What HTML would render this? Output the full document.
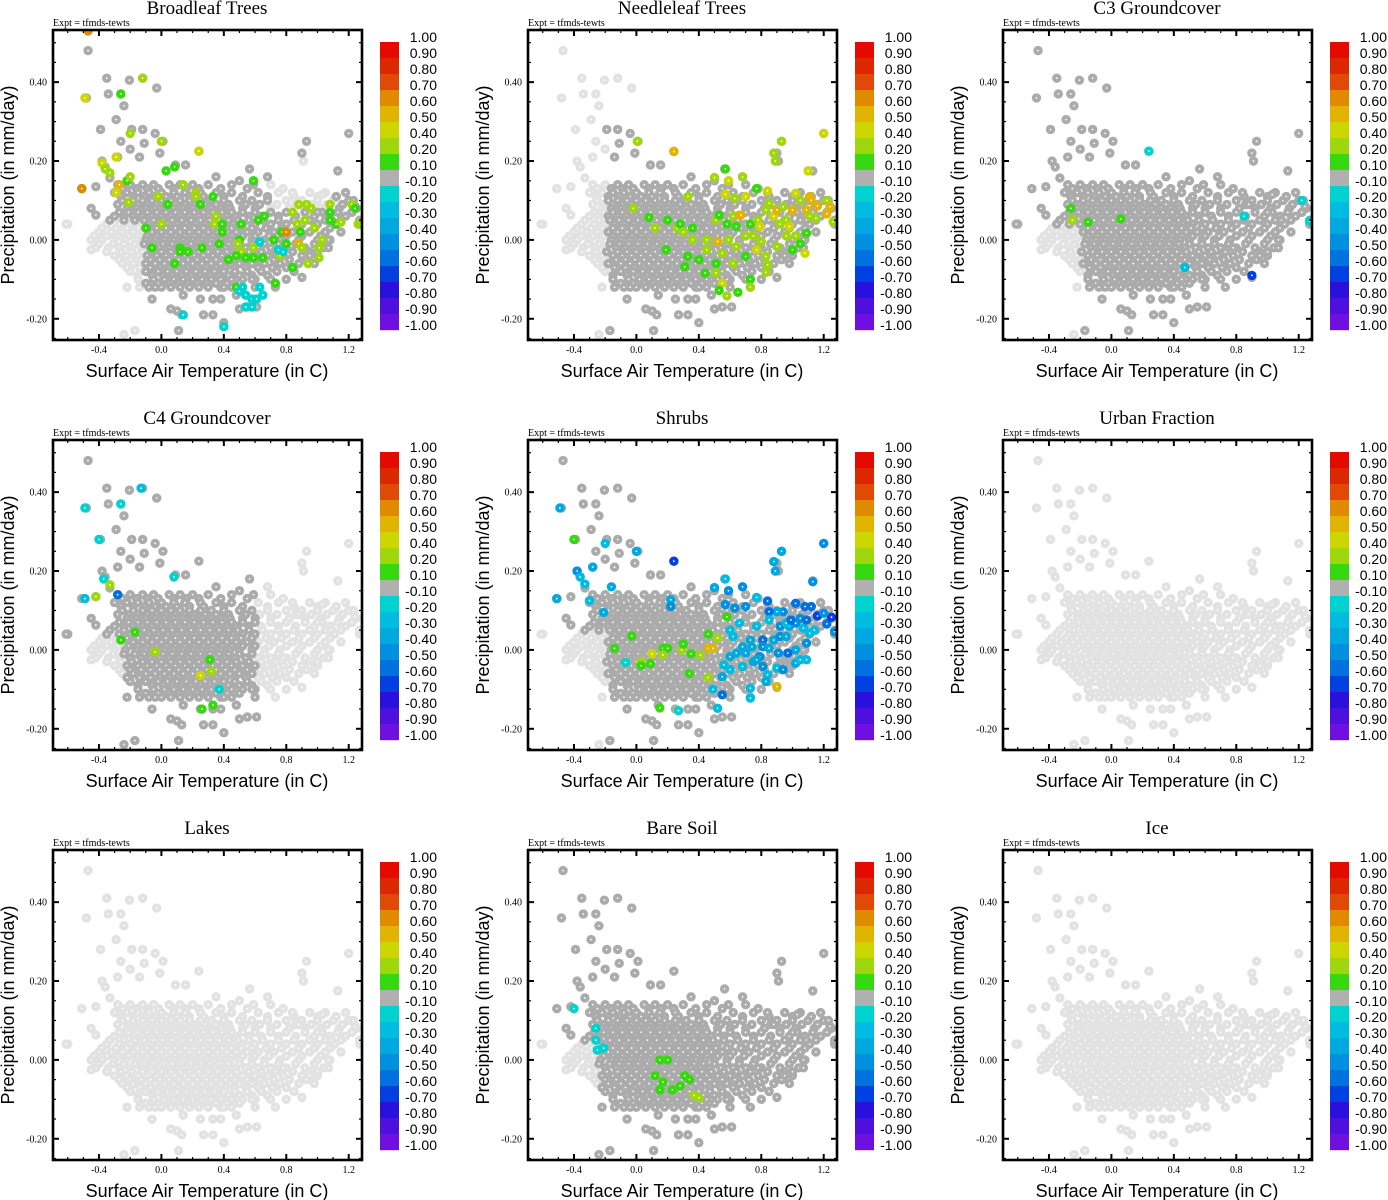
<!DOCTYPE html>
<html><head><meta charset="utf-8">
<style>
html,body{margin:0;padding:0;background:#fff;}
svg{display:block;}
</style></head>
<body>
<svg id="chart" width="1388" height="1200" xmlns="http://www.w3.org/2000/svg"></svg>
<script>
// ---------- shared point cloud (data units: x = temp C, y = precip mm/day) ----------
const outX = [-0.47,-0.48,-0.35,-0.34,-0.205,-0.12,-0.03,-0.26,-0.24,-0.29,-0.39,-0.19,-0.12,-0.26,-0.2,-0.11,-0.04,0.01,-0.01,0.24,-0.14,-0.28,-0.38,-0.36,-0.33,-0.51,-0.42,-0.42,-0.61,-0.45,-0.45,0.93,1.2,0.9,0.91,1.13,0.565,0.155,0.09,0.35,0.5,0.68,0.59,0.78,0.84,1.03,1.12,1.23,1.24,1.22,1.27,1.16,0.96,0.88,1.0,1.09,1.11,1.05,1.07,1.0,1.07,0.9,0.85,0.95,0.78,0.73,0.61,0.55,0.5,0.33,0.27,0.4,0.11,-0.17,-0.24,0.13,0.1,0.06,-0.06,-0.14,-0.22,-0.04,-0.22,-0.18,0.14,0.25,0.33,0.38,0.4,0.48,0.6,0.58];
const outY = [0.48,0.36,0.41,0.37,0.405,0.41,0.385,0.37,0.34,0.305,0.28,0.28,0.28,0.25,0.23,0.245,0.27,0.25,0.22,0.225,0.21,0.21,0.2,0.185,0.157,0.13,0.135,0.063,0.04,-0.025,0.0,0.25,0.27,0.22,0.2,0.175,0.18,0.19,0.19,0.16,0.15,0.16,0.14,0.13,0.12,0.115,0.11,0.1,0.085,0.07,0.05,0.09,0.09,0.09,0.07,0.05,0.04,0.02,0.0,-0.03,-0.02,-0.095,-0.08,-0.04,-0.02,-0.12,-0.17,-0.17,-0.175,-0.19,-0.19,-0.21,-0.23,-0.23,-0.24,-0.19,-0.18,-0.175,-0.15,-0.12,-0.12,-0.12,-0.07,-0.06,-0.14,-0.15,-0.15,-0.15,-0.12,-0.14,-0.12,-0.1];
// dense core, stored by row: one precip value per row plus its temperatures
const coreRowY = [0.14,0.13,0.12,0.11,0.10,0.09,0.08,0.07,0.06,0.05,0.04,0.03,0.02,0.01,0.00,-0.01,-0.02,-0.03,-0.04,-0.05,-0.06,-0.07,-0.08,-0.09,-0.10,-0.11,-0.12];
const coreRowX = [
 [-0.28,-0.2,-0.12,-0.05,0.05,0.12,0.2,0.3,0.45,0.7],
 [-0.25,-0.16,-0.09,-0.02,0.08,0.16,0.24,0.38,0.55],
 [-0.3,-0.22,-0.15,-0.08,0.0,0.08,0.15,0.25,0.35,0.45,0.62,0.75,0.95,1.05,1.18],
 [-0.26,-0.18,-0.11,-0.04,0.03,0.1,0.18,0.27,0.4,0.52,0.68,0.85,1.0,1.12],
 [-0.25,-0.18,-0.12,-0.06,0.0,0.06,0.12,0.18,0.25,0.32,0.4,0.5,0.58,0.68,0.8,0.9,1.0,1.1,1.2],
 [-0.28,-0.21,-0.15,-0.09,-0.03,0.03,0.09,0.15,0.21,0.28,0.35,0.43,0.54,0.63,0.74,0.86,0.96,1.06,1.16],
 [-0.45,-0.22,-0.16,-0.1,-0.04,0.02,0.08,0.14,0.2,0.26,0.32,0.38,0.44,0.52,0.6,0.7,0.82,0.92,1.02,1.14,1.25],
 [-0.27,-0.21,-0.15,-0.09,-0.03,0.03,0.09,0.15,0.21,0.27,0.33,0.39,0.45,0.52,0.6,0.7,0.8,0.92,1.03,1.13,1.22],
 [-0.3,-0.24,-0.18,-0.12,-0.06,0.0,0.06,0.12,0.18,0.24,0.3,0.36,0.42,0.48,0.56,0.64,0.75,0.86,0.98,1.08,1.18],
 [-0.33,-0.24,-0.17,-0.11,-0.05,0.01,0.07,0.13,0.19,0.25,0.31,0.37,0.43,0.49,0.56,0.65,0.75,0.85,0.95,1.05,1.15],
 [-0.6,-0.35,-0.27,-0.2,-0.14,-0.08,-0.02,0.04,0.1,0.16,0.22,0.28,0.34,0.4,0.46,0.52,0.6,0.7,0.8,0.9,1.0,1.1,1.27],
 [-0.38,-0.29,-0.22,-0.15,-0.09,-0.03,0.03,0.09,0.15,0.21,0.27,0.33,0.39,0.45,0.51,0.58,0.67,0.77,0.88,0.98,1.08],
 [-0.4,-0.32,-0.25,-0.18,-0.12,-0.06,0.0,0.06,0.12,0.18,0.24,0.3,0.36,0.42,0.48,0.55,0.62,0.72,0.84,0.95,1.05,1.15],
 [-0.43,-0.35,-0.28,-0.21,-0.15,-0.09,-0.03,0.03,0.09,0.15,0.21,0.27,0.33,0.39,0.45,0.52,0.6,0.69,0.8,0.9,1.02],
 [-0.45,-0.38,-0.3,-0.23,-0.16,-0.1,-0.04,0.02,0.08,0.14,0.2,0.26,0.32,0.38,0.44,0.5,0.58,0.66,0.76,0.88,1.0,1.08],
 [-0.4,-0.31,-0.24,-0.17,-0.11,-0.05,0.01,0.07,0.13,0.19,0.25,0.31,0.37,0.43,0.5,0.58,0.66,0.75,0.86,0.98],
 [-0.42,-0.34,-0.27,-0.2,-0.13,-0.07,-0.01,0.05,0.11,0.17,0.23,0.29,0.35,0.41,0.47,0.54,0.62,0.7,0.8,0.92,1.04],
 [-0.35,-0.26,-0.19,-0.12,-0.06,0.0,0.06,0.12,0.18,0.24,0.3,0.36,0.42,0.48,0.56,0.64,0.73,0.84,0.95],
 [-0.3,-0.22,-0.15,-0.09,-0.03,0.03,0.09,0.15,0.21,0.27,0.33,0.39,0.45,0.52,0.6,0.68,0.78,0.9,1.0],
 [-0.27,-0.2,-0.13,-0.07,-0.01,0.05,0.11,0.17,0.23,0.29,0.35,0.41,0.47,0.55,0.63,0.72,0.82,0.93],
 [-0.25,-0.18,-0.1,-0.04,0.02,0.08,0.14,0.2,0.26,0.32,0.38,0.44,0.5,0.58,0.66,0.76,0.88,0.98],
 [-0.22,-0.14,-0.07,-0.01,0.05,0.11,0.17,0.23,0.29,0.35,0.41,0.47,0.54,0.62,0.71,0.8],
 [-0.2,-0.1,-0.02,0.04,0.1,0.16,0.22,0.28,0.34,0.4,0.47,0.55,0.64,0.74,0.85],
 [-0.15,-0.06,0.01,0.07,0.13,0.19,0.25,0.31,0.37,0.43,0.5,0.58,0.68],
 [-0.15,-0.05,0.02,0.08,0.14,0.2,0.26,0.32,0.38,0.45,0.52,0.6,0.7,0.8],
 [-0.1,-0.02,0.05,0.11,0.17,0.23,0.29,0.35,0.42,0.5],
 [-0.08,0.0,0.06,0.12,0.18,0.24,0.3,0.38,0.45]
];

// ---------- panel titles ----------
const titles = ["Broadleaf Trees","Needleleaf Trees","C3 Groundcover","C4 Groundcover","Shrubs","Urban Fraction","Lakes","Bare Soil","Ice"];
// regions where correlation is not significant (light grey): [xmin,xmax,ymin,ymax]; null = all light
const lightRegions = [
 [[-0.7,-0.12,-0.26,0.04],[0.7,1.1,0.08,0.2]],
 [[-0.7,-0.2,-0.26,0.55],[-0.7,0.1,0.3,0.55]],
 [[-0.7,-0.2,-0.26,0.03]],
 [[-0.7,-0.25,-0.26,0.03],[0.62,1.3,-0.26,0.3]],
 [[-0.7,-0.2,-0.26,0.04]],
 null, null,
 [[-0.7,-0.25,-0.26,0.04]],
 null
];

// ---------- coloured (significant) points per panel ----------
const c1x=[-0.47,-0.49,-0.26,-0.12,-0.2,0.0,0.24,-0.29,-0.38,-0.36,-0.33,-0.51,-0.27,-0.29,-0.22,-0.2,-0.21,0.03,0.085,0.14,0.22,0.22,0.33,0.25,0.04,-0.02,0.0,-0.1,0.35,0.34,0.39,0.39,-0.06,0.12,0.12,0.17,0.26,0.37,0.43,0.085,0.5,0.49,0.51,0.51,0.48,0.54,0.59,0.65,0.59,0.59,0.62,0.66,0.72,0.76,0.73,0.48,0.77,0.8,0.8,0.84,0.84,0.88,0.93,0.96,0.87,0.89,0.88,0.9,0.92,0.98,0.94,1.01,1.01,1.03,1.08,1.08,1.08,1.12,1.15,1.22,1.24,1.26,1.28,0.14,0.4,0.63,0.63,0.5,0.54,0.58,0.61,0.65,0.54,0.58,0.75,0.78,0.52];
const c1y=[0.53,0.36,0.37,0.41,0.27,0.25,0.225,0.21,0.195,0.18,0.17,0.13,0.14,0.12,0.15,0.16,0.095,0.175,0.185,0.14,0.12,0.11,0.11,0.09,0.09,0.11,0.04,0.03,0.06,0.04,0.04,0.02,-0.02,-0.02,-0.03,-0.03,-0.02,-0.01,-0.05,-0.06,0.0,-0.01,0.04,-0.03,-0.04,-0.045,-0.045,-0.045,-0.02,0.15,0.05,0.06,0.0,-0.04,-0.11,-0.12,0.02,0.02,-0.01,-0.07,0.07,0.09,0.09,0.08,0.04,0.02,-0.01,-0.02,0.05,0.03,-0.06,-0.02,-0.045,0.0,0.09,0.07,0.05,0.04,0.045,0.09,0.08,0.04,0.04,-0.19,-0.22,-0.005,-0.12,-0.13,-0.14,-0.15,-0.15,-0.14,-0.17,-0.17,-0.025,-0.03,-0.12];
const c1v=[0.6,0.45,0.15,0.3,0.3,0.3,0.45,0.45,0.45,0.3,0.3,0.6,0.5,0.45,0.15,0.3,0.3,0.15,0.15,0.3,0.3,0.3,0.15,0.15,0.15,0.3,0.3,0.15,0.3,0.3,0.15,0.15,0.15,0.15,0.15,0.15,0.15,0.15,0.15,0.15,0.15,0.3,0.15,0.3,0.15,0.15,0.15,0.15,0.3,0.15,0.15,0.15,0.15,0.3,0.15,0.15,0.15,0.6,0.15,0.15,0.3,0.3,0.3,0.3,0.3,0.15,0.5,0.3,0.3,0.3,0.3,0.3,0.3,0.3,0.3,0.15,0.15,0.15,0.3,0.3,0.15,0.3,0.3,-0.15,-0.15,-0.15,-0.15,-0.15,-0.15,-0.15,-0.15,-0.15,-0.15,-0.15,-0.15,-0.15,-0.15];

const c2x=[0.006,0.24,0.93,1.2,0.88,0.89,1.1,0.57,0.5,0.59,0.68,0.77,0.84,0.57,0.63,0.7,0.33,-0.02,0.08,0.2,0.12,0.26,0.28,0.3,0.36,0.36,0.45,0.51,0.53,0.58,0.62,0.64,0.66,0.7,0.73,0.75,0.78,0.79,0.83,0.85,0.88,0.9,0.92,0.94,0.96,0.98,1.0,1.02,1.05,1.09,1.08,1.0,0.96,0.9,0.83,0.77,0.7,0.64,0.59,0.55,0.51,0.45,0.4,0.33,0.31,0.44,0.51,0.55,0.62,0.73,0.73,0.65,0.53,0.58,0.19,0.84,0.83,0.8,0.52,0.67,1.02,1.05,1.11,1.12,1.16,1.22,1.24,1.22,1.26,1.09,1.11,1.15];
const c2y=[0.25,0.224,0.25,0.27,0.22,0.2,0.175,0.18,0.158,0.15,0.16,0.13,0.124,0.116,0.105,0.11,0.11,0.08,0.057,0.05,0.03,0.03,0.04,0.02,0.03,0.0,0.0,0.05,0.063,0.04,0.06,0.034,0.063,0.01,0.04,0.01,0.05,0.034,0.076,0.093,0.06,0.076,0.04,0.084,0.05,0.034,0.076,0.01,-0.01,0.017,-0.034,-0.025,0.01,-0.017,-0.042,-0.025,-0.042,-0.017,0.0,-0.034,-0.06,-0.025,-0.05,-0.042,-0.068,-0.084,-0.084,-0.11,-0.06,-0.1,-0.12,-0.133,-0.128,-0.142,-0.025,-0.063,-0.082,-0.004,-0.004,0.063,0.118,0.1,0.11,0.1,0.086,0.1,0.084,0.066,0.046,0.076,0.06,0.055];
const c2v=[0.3,0.55,0.3,0.4,0.3,0.3,0.45,0.15,0.3,0.45,0.3,0.15,0.45,0.45,0.3,0.45,0.3,0.3,0.15,0.15,0.3,0.3,0.15,0.3,0.15,0.3,0.3,0.3,0.15,0.15,0.3,0.15,0.5,0.3,0.15,0.3,0.3,0.4,0.3,0.3,0.4,0.5,0.3,0.3,0.3,0.4,0.5,0.3,0.15,0.15,0.4,0.15,0.3,0.3,0.3,0.4,0.15,0.3,0.3,0.3,0.15,0.3,0.15,0.15,0.15,0.15,0.3,0.4,0.3,0.15,0.3,0.15,0.15,0.3,0.15,0.3,0.3,0.3,0.55,0.55,0.4,0.3,0.55,0.5,0.55,0.3,0.55,0.55,0.3,0.55,0.3,0.3];

const c3x=[0.24,-0.26,-0.25,-0.15,0.06,1.22,1.27,0.9,0.85,0.47];
const c3y=[0.225,0.08,0.05,0.045,0.053,0.1,0.048,-0.09,0.06,-0.07];
const c3v=[-0.15,0.15,0.3,0.15,0.15,-0.15,-0.15,-0.65,-0.15,-0.25];

const c4x=[-0.49,-0.49,-0.4,-0.26,-0.13,-0.37,-0.42,-0.33,-0.28,0.08,-0.26,-0.17,-0.04,0.31,0.32,0.25,0.26,0.33,0.37];
const c4y=[0.13,0.36,0.28,0.37,0.41,0.18,0.135,0.165,0.14,0.185,0.025,0.045,-0.005,-0.025,-0.055,-0.065,-0.15,-0.14,-0.1];
const c4v=[-0.25,-0.15,-0.15,-0.15,-0.25,-0.15,0.3,0.3,-0.6,-0.15,0.15,0.15,0.3,0.15,0.3,0.45,0.15,0.15,-0.15];

const c5x=[-0.49,-0.4,-0.2,0.0,0.24,-0.38,-0.36,-0.33,-0.28,-0.51,-0.3,-0.16,-0.21,0.22,0.22,0.57,0.5,0.59,0.68,0.93,0.88,0.89,1.2,1.13,0.77,0.84,0.57,0.63,0.7,0.58,1.02,1.08,1.12,1.16,1.22,1.25,1.27,1.2,0.94,0.9,0.85,0.85,0.81,0.77,0.73,0.66,0.62,0.6,0.68,0.74,0.81,0.88,0.92,0.96,0.98,1.02,1.07,1.11,1.09,1.02,0.97,0.91,0.85,0.79,0.75,0.7,0.64,0.6,0.56,0.55,0.6,0.68,0.77,0.81,0.84,0.83,0.9,0.94,1.02,1.05,1.09,0.92,0.96,0.99,1.05,1.09,1.14,0.73,0.73,0.55,0.52,0.27,0.49,-0.07,-0.03,-0.14,0.17,0.2,0.1,0.17,0.03,0.03,0.09,0.29,0.35,0.41,0.3,0.46,0.52,0.46,0.49,0.34,0.46,0.9,0.15];
const c5y=[0.36,0.28,0.27,0.25,0.225,0.2,0.185,0.167,0.21,0.13,0.125,0.16,0.095,0.127,0.11,0.18,0.158,0.15,0.16,0.25,0.224,0.2,0.27,0.173,0.133,0.124,0.115,0.106,0.11,0.084,0.118,0.11,0.11,0.086,0.066,0.083,0.046,0.093,0.097,0.097,0.097,0.076,0.025,0.06,0.025,0.068,0.034,0.05,0.008,0.008,0.008,0.025,0.034,0.034,0.06,0.068,0.055,0.042,0.017,0.0,-0.008,-0.008,0.004,-0.017,-0.03,-0.008,-0.008,-0.017,-0.038,-0.068,-0.05,-0.042,-0.025,-0.042,-0.063,-0.08,-0.046,-0.05,-0.034,-0.025,-0.025,0.06,0.068,0.076,0.08,0.076,0.05,-0.097,-0.122,-0.114,-0.148,-0.154,-0.1,-0.032,0.035,0.004,0.004,0.004,-0.01,-0.013,-0.03,-0.04,-0.035,0.0,-0.01,-0.013,0.015,0.04,0.03,0.004,0.004,-0.06,-0.07,-0.093,-0.147];
const c5v=[-0.4,0.15,-0.25,-0.4,-0.7,-0.5,-0.25,-0.25,-0.4,-0.4,-0.3,-0.4,-0.4,-0.4,-0.5,-0.25,-0.35,-0.5,-0.45,-0.35,-0.35,-0.35,-0.5,-0.5,-0.3,-0.55,-0.5,-0.45,-0.45,0.15,-0.55,-0.6,-0.55,-0.65,-0.55,-0.7,-0.45,-0.45,-0.45,-0.35,-0.55,-0.25,-0.6,-0.25,-0.35,-0.25,-0.25,-0.25,-0.35,-0.35,-0.45,-0.35,-0.45,-0.35,-0.35,-0.45,-0.25,-0.25,-0.45,-0.35,-0.55,-0.45,-0.35,-0.45,-0.35,-0.35,-0.35,-0.35,-0.25,-0.35,-0.25,-0.25,-0.35,-0.45,-0.25,-0.35,-0.25,-0.45,-0.35,-0.25,-0.25,-0.45,-0.25,-0.55,-0.45,-0.55,-0.25,-0.25,-0.25,-0.55,-0.25,-0.15,-0.25,-0.15,0.15,0.15,0.15,0.15,0.45,0.3,0.3,0.15,0.15,0.3,0.15,0.3,0.15,0.15,0.3,0.5,0.5,0.15,0.3,0.5,0.15];

const c8x=[-0.4,-0.26,-0.26,-0.25,-0.21,0.2,0.15,0.12,0.17,0.15,0.31,0.34,0.37,0.4,0.28,0.23];
const c8y=[0.13,0.08,0.05,0.025,0.03,0.0,0.0,-0.04,-0.056,-0.076,-0.04,-0.05,-0.09,-0.096,-0.066,-0.076];
const c8v=[-0.15,-0.15,-0.15,-0.15,-0.15,0.15,0.15,0.15,0.15,0.15,0.15,0.15,0.3,0.3,0.15,0.15];

const colX=[c1x,c2x,c3x,c4x,c5x,[],[],c8x,[]];
const colY=[c1y,c2y,c3y,c4y,c5y,[],[],c8y,[]];
const colV=[c1v,c2v,c3v,c4v,c5v,[],[],c8v,[]];

// ---------- colour scale ----------
const cbLabels=["1.00","0.90","0.80","0.70","0.60","0.50","0.40","0.20","0.10","-0.10","-0.20","-0.30","-0.40","-0.50","-0.60","-0.70","-0.80","-0.90","-1.00"];
const cbLevels=[0.9,0.8,0.7,0.6,0.5,0.4,0.2,0.1,-0.1,-0.2,-0.3,-0.4,-0.5,-0.6,-0.7,-0.8,-0.9];
const cbColors=["#e40a00","#dc2800","#e04a06","#e08a00","#e0b400","#ccd600","#9ed80c","#36d810","#b0b0b0","#00d2d0","#00bce0","#00a8e0","#0090e0","#0072e0","#0040e0","#2a10dc","#4e10dc","#7010e0"];
const xTicks=[-0.4,0.0,0.4,0.8,1.2];
const xTickLabels=["-0.4","0.0","0.4","0.8","1.2"];
const yTicks=[0.4,0.2,0.0,-0.2];
const yTickLabels=["0.40","0.20","0.00","-0.20"];

function colorFor(v){
  for(let i=0;i<cbLevels.length;i++){ if(v>=cbLevels[i]) return cbColors[i]; }
  return cbColors[cbColors.length-1];
}

const NS="http://www.w3.org/2000/svg";
const svg=document.getElementById('chart');
function mk(tag,attrs,parent){
  const e=document.createElementNS(NS,tag);
  for(const k in attrs) e.setAttribute(k,attrs[k]);
  (parent||svg).appendChild(e);
  return e;
}
function inRegions(x,y,regs){
  if(regs===null) return true;
  for(const r of regs){ if(x>=r[0]&&x<=r[1]&&y>=r[2]&&y<=r[3]) return true; }
  return false;
}

const baseX=[], baseY=[];
for(let r=0;r<coreRowY.length;r++){ for(const x of coreRowX[r]){ baseX.push(x); baseY.push(coreRowY[r]); } }
for(let i=0;i<outX.length;i++){ baseX.push(outX[i]); baseY.push(outY[i]); }

const PLOT_L=53, PLOT_R=362, PLOT_T=30, PLOT_B=340;
function sxF(ox){ return x=>ox+161.4+x*156.1; }
function syF(oy){ return y=>oy+239.9-y*394.4; }

function marker(g,cx,cy,color){
  const c=mk('circle',{cx:cx,cy:cy,r:4.7,fill:color},g);
  
  
  const d=mk('circle',{cx:cx,cy:cy,r:0.9,fill:'#ffffff'},g);
  
  
}

for(let p=0;p<9;p++){
  const ox=(p%3)*475, oy=Math.floor(p/3)*410;
  const sx=sxF(ox), sy=syF(oy);
  const panel=mk('g',{});
  
  

  const t=mk('text',{x:ox+207,y:oy+14,'text-anchor':'middle','font-family':'Liberation Serif, serif','font-size':19},panel);
  t.textContent=titles[p];
  
  

  const ex=mk('text',{x:ox+53,y:oy+26,'font-family':'Liberation Serif, serif','font-size':10},panel);
  ex.textContent='Expt = tfmds-tewts';
  
  

  const cp=mk('clipPath',{id:'clip'+p},panel);
  mk('rect',{x:ox+PLOT_L,y:oy+PLOT_T,width:PLOT_R-PLOT_L,height:PLOT_B-PLOT_T},cp);
  const pts=mk('g',{'clip-path':'url(#clip'+p+')'},panel);
  
  

  const regs=lightRegions[p];
  for(let i=0;i<baseX.length;i++){ if(inRegions(baseX[i],baseY[i],regs)) marker(pts,sx(baseX[i]),sy(baseY[i]),'#e2e2e2'); }
  for(let i=0;i<baseX.length;i++){ if(!inRegions(baseX[i],baseY[i],regs)) marker(pts,sx(baseX[i]),sy(baseY[i]),'#ababab'); }
  const cx=colX[p], cy=colY[p], cv=colV[p];
  for(let i=0;i<cx.length;i++){ marker(pts,sx(cx[i]),sy(cy[i]),colorFor(cv[i])); }

  const fr=mk('rect',{x:ox+PLOT_L,y:oy+PLOT_T,width:PLOT_R-PLOT_L,height:PLOT_B-PLOT_T,fill:'none',stroke:'#000','stroke-width':2.6},panel);
  
  

  for(let k=-6;k<=12;k++){
    const v=k/10, X=sx(v);
    if(X<ox+PLOT_L+1||X>ox+PLOT_R-1) continue;
    const major=(k%4===0);
    const L=major?6:3;
    mk('line',{x1:X,x2:X,y1:oy+PLOT_B,y2:oy+PLOT_B-L,stroke:'#000','stroke-width':major?2:1.2},panel);
    mk('line',{x1:X,x2:X,y1:oy+PLOT_T,y2:oy+PLOT_T+L,stroke:'#000','stroke-width':major?2:1.2},panel);
  }
  for(let i=0;i<xTicks.length;i++){
    const tl=mk('text',{x:sx(xTicks[i]),y:oy+353,'text-anchor':'middle','font-family':'Liberation Serif, serif','font-size':10},panel);
    tl.textContent=xTickLabels[i];
    
    
  }
  for(let k=-5;k<=10;k++){
    const v=k*0.05, Y=sy(v);
    if(Y<oy+PLOT_T+1||Y>oy+PLOT_B-1) continue;
    const major=(k%4===0);
    const L=major?6:3;
    mk('line',{x1:ox+PLOT_L,x2:ox+PLOT_L+L,y1:Y,y2:Y,stroke:'#000','stroke-width':major?2:1.2},panel);
    mk('line',{x1:ox+PLOT_R,x2:ox+PLOT_R-L,y1:Y,y2:Y,stroke:'#000','stroke-width':major?2:1.2},panel);
  }
  for(let i=0;i<yTicks.length;i++){
    const tl=mk('text',{x:ox+47,y:sy(yTicks[i])+3.5,'text-anchor':'end','font-family':'Liberation Serif, serif','font-size':10},panel);
    tl.textContent=yTickLabels[i];
    
    
  }
  const xt=mk('text',{x:ox+207,y:oy+377,'text-anchor':'middle','font-family':'Liberation Sans, sans-serif','font-size':18},panel);
  xt.textContent='Surface Air Temperature (in C)';
  
  
  const yt=mk('text',{x:0,y:0,'text-anchor':'middle','font-family':'Liberation Sans, sans-serif','font-size':18,transform:'translate('+(ox+14)+','+(oy+185)+') rotate(-90)'},panel);
  yt.textContent='Precipitation (in mm/day)';
  
  

  const cb=mk('g',{},panel);
  
  
  for(let i=0;i<cbColors.length;i++){
    const r=mk('rect',{x:ox+380,y:oy+42+i*16,width:19,height:16.2,fill:cbColors[i]},cb);
    
    
  }
  for(let i=0;i<cbLabels.length;i++){
    const l=mk('text',{x:ox+437,y:oy+42+i*16,'text-anchor':'end','font-family':'Liberation Sans, sans-serif','font-size':14},cb);
    l.textContent=cbLabels[i];
    
    
  }
}
</script>
</body></html>
